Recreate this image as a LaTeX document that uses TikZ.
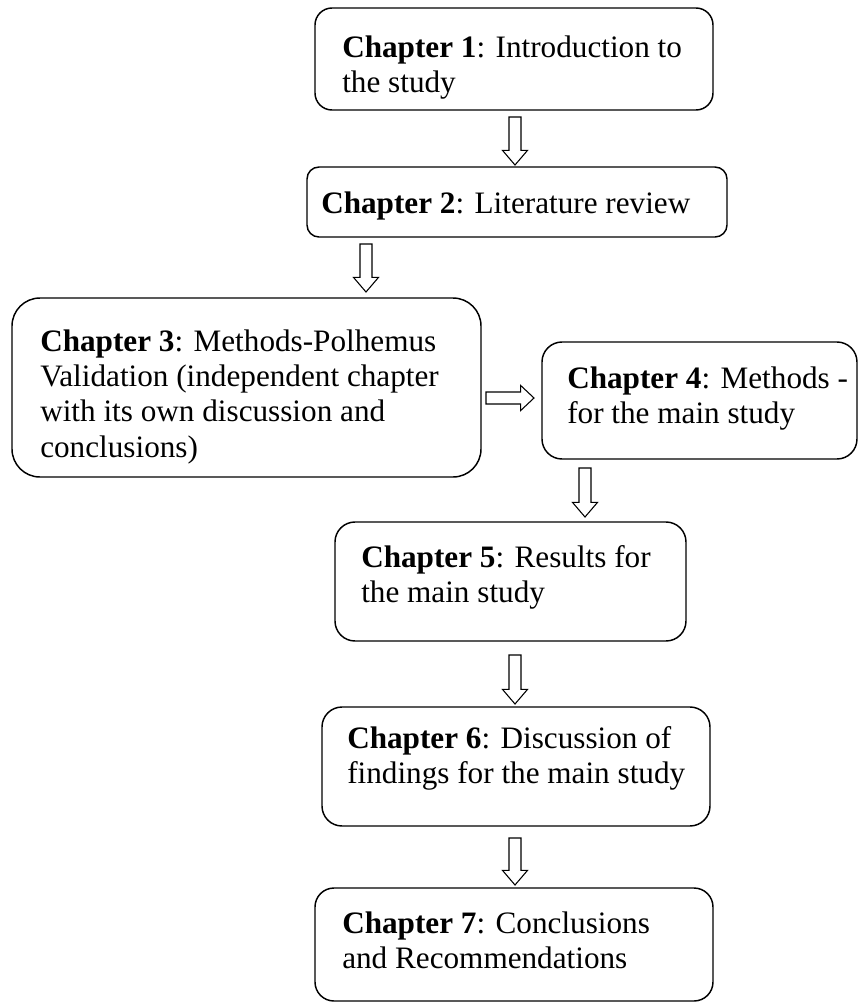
\documentclass[tikz,border=0pt]{standalone}
\usepackage{fontspec}
\setmainfont{Liberation Serif}
% stack of lines whose baseline is that of the first line
\newcommand\chlines[1]{\vtop{\baselineskip=26.5pt\lineskiplimit=0pt\lineskip=0pt #1}}
\begin{document}
\begin{tikzpicture}[x=0.75pt,y=-0.75pt,
  chbox/.style={draw=black, line width=1.1pt, rectangle, inner sep=0pt},
  chtext/.style={inner sep=0pt, anchor=base west, font=\fontsize{23.4pt}{26.5pt}\selectfont},
  % hollow block arrow pointing down, from tail centre to tip
  downblock/.style={draw=black, line width=0.8pt, fill=white,
    to path={([xshift=-4.5pt]\tikztostart) -- ([xshift=-4.5pt,yshift=11pt]\tikztotarget)
      -- ([xshift=-9.4pt,yshift=11pt]\tikztotarget) -- (\tikztotarget)
      -- ([xshift=9.4pt,yshift=11pt]\tikztotarget) -- ([xshift=4.5pt,yshift=11pt]\tikztotarget)
      -- ([xshift=4.5pt]\tikztostart) -- cycle}},
  % hollow block arrow pointing right
  rightblock/.style={draw=black, line width=0.8pt, fill=white,
    to path={([yshift=4.5pt]\tikztostart) -- ([yshift=4.5pt,xshift=-10pt]\tikztotarget)
      -- ([yshift=9.4pt,xshift=-10pt]\tikztotarget) -- (\tikztotarget)
      -- ([yshift=-9.4pt,xshift=-10pt]\tikztotarget) -- ([yshift=-4.5pt,xshift=-10pt]\tikztotarget)
      -- ([yshift=-4.5pt]\tikztostart) -- cycle}}
]
\useasboundingbox (0,0) rectangle (859,1004);

% chapter boxes
\node[chbox, minimum width=298.5pt, minimum height=76.5pt, rounded corners=12.75pt] (c1) at (514,59) {};
\node[chbox, minimum width=315pt, minimum height=52.5pt, rounded corners=9pt] (c2) at (517,202) {};
\node[chbox, minimum width=351.75pt, minimum height=134.25pt, rounded corners=21pt] (c3) at (246.5,387.5) {};
\node[chbox, minimum width=236.25pt, minimum height=87.75pt, rounded corners=15pt] (c4) at (699.5,400.5) {};
\node[chbox, minimum width=263.25pt, minimum height=89.25pt, rounded corners=15pt] (c5) at (510.5,581.5) {};
\node[chbox, minimum width=291pt, minimum height=89.25pt, rounded corners=15pt] (c6) at (516,766.5) {};
\node[chbox, minimum width=298.5pt, minimum height=84.75pt, rounded corners=14.25pt] (c7) at (514,944.5) {};

% chapter texts
\node[chtext] (t1) at (342,57) {\chlines{\hbox{\textbf{Chapter 1}: Introduction to}\hbox{the study}}};
\node[chtext] (t2) at (321,213) {\chlines{\hbox{\textbf{Chapter 2}: Literature review}}};
\node[chtext] (t3) at (40,351) {\chlines{\hbox{\textbf{Chapter 3}: Methods-Polhemus}\hbox{Validation (independent chapter}\hbox{with its own discussion and}\hbox{conclusions)}}};
\node[chtext] (t4) at (567,388) {\chlines{\hbox{\textbf{Chapter 4}: Methods -}\hbox{for the main study}}};
\node[chtext] (t5) at (361,567) {\chlines{\hbox{\textbf{Chapter 5}: Results for}\hbox{the main study}}};
\node[chtext] (t6) at (347,748) {\chlines{\hbox{\textbf{Chapter 6}: Discussion of}\hbox{findings for the main study}}};
\node[chtext] (t7) at (342,933) {\chlines{\hbox{\textbf{Chapter 7}: Conclusions}\hbox{and Recommendations}}};

% arrow tails and tips
\coordinate (a1s) at (515,117); \coordinate (a1e) at (515,165);
\coordinate (a2s) at (366,244); \coordinate (a2e) at (366,292);
\coordinate (a3s) at (486,398); \coordinate (a3e) at (534,398);
\coordinate (a4s) at (585,468); \coordinate (a4e) at (585,517);
\coordinate (a5s) at (515,655); \coordinate (a5e) at (515,704);
\coordinate (a6s) at (515,838); \coordinate (a6e) at (515,885);

\draw[downblock] (a1s) to (a1e);
\draw[downblock] (a2s) to (a2e);
\draw[rightblock] (a3s) to (a3e);
\draw[downblock] (a4s) to (a4e);
\draw[downblock] (a5s) to (a5e);
\draw[downblock] (a6s) to (a6e);
\end{tikzpicture}
\end{document}
